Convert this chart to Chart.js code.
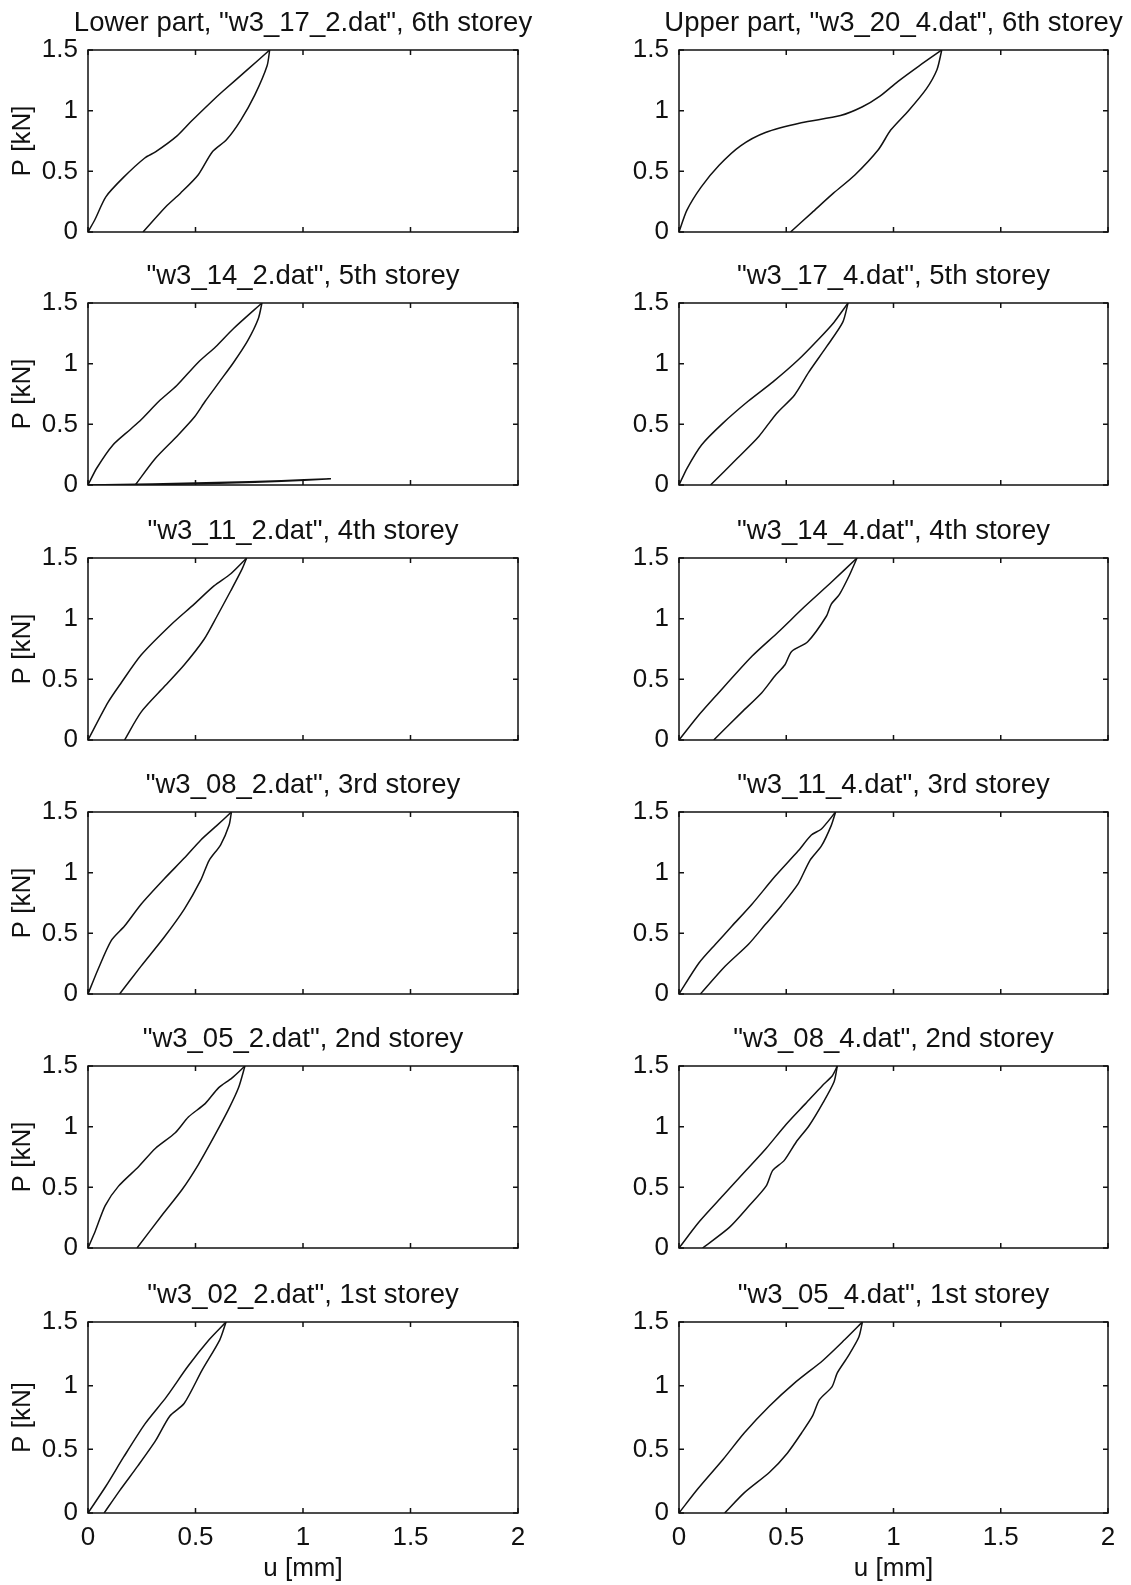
<!DOCTYPE html>
<html>
<head>
<meta charset="utf-8">
<script src="https://cdn.jsdelivr.net/npm/chart.js@4.4.1/dist/chart.umd.min.js"></script>
<style>
  html, body { margin: 0; padding: 0; background: #fff; width: 1131px; height: 1585px; overflow: hidden; position: relative; }
  canvas { position: absolute; }
</style>
</head>
<body>
<script>
// axis ticks (u in mm, P in kN)
const xTicks = [0, 0.5, 1, 1.5, 2];
const yTicks = [0, 0.5, 1, 1.5];

const titles = [
  'Lower part, "w3_17_2.dat", 6th storey', 'Upper part, "w3_20_4.dat", 6th storey',
  '"w3_14_2.dat", 5th storey', '"w3_17_4.dat", 5th storey',
  '"w3_11_2.dat", 4th storey', '"w3_14_4.dat", 4th storey',
  '"w3_08_2.dat", 3rd storey', '"w3_11_4.dat", 3rd storey',
  '"w3_05_2.dat", 2nd storey', '"w3_08_4.dat", 2nd storey',
  '"w3_02_2.dat", 1st storey', '"w3_05_4.dat", 1st storey'
];

// load / unload branches, [u, P] pairs
const w3_17_2_load = [[0,0],[0.033,0.105],[0.083,0.29],[0.165,0.45],[0.264,0.61],[0.314,0.66],[0.413,0.79],[0.479,0.91],[0.578,1.08],[0.627,1.16],[0.743,1.34],[0.845,1.5]];
const w3_17_2_unload = [[0.845,1.5],[0.833,1.37],[0.776,1.13],[0.71,0.92],[0.644,0.76],[0.578,0.66],[0.512,0.47],[0.43,0.32],[0.363,0.21],[0.256,0]];

const w3_20_4_load = [[0,0],[0.037,0.18],[0.103,0.37],[0.187,0.55],[0.287,0.71],[0.403,0.82],[0.57,0.9],[0.753,0.96],[0.853,1.03],[0.937,1.12],[1.02,1.24],[1.12,1.37],[1.225,1.5]];
const w3_20_4_unload = [[1.225,1.5],[1.203,1.34],[1.153,1.18],[1.07,1.0],[0.987,0.84],[0.93,0.68],[0.82,0.47],[0.72,0.32],[0.62,0.16],[0.52,0]];

const w3_14_2_load = [[0,0],[0.041,0.14],[0.116,0.33],[0.198,0.46],[0.248,0.54],[0.33,0.69],[0.413,0.82],[0.512,1.01],[0.594,1.14],[0.677,1.29],[0.809,1.5]];
const w3_14_2_unload = [[0.809,1.5],[0.792,1.37],[0.743,1.19],[0.677,1.01],[0.611,0.85],[0.545,0.69],[0.495,0.56],[0.413,0.4],[0.314,0.22],[0.22,0]];
const w3_14_2_reload = [[0,0],[0.3,0.008],[0.6,0.02],[0.9,0.035],[1.13,0.052],[0.9,0.03],[0.65,0.016],[0.4,0.006],[0.2,0]];

const w3_17_4_load = [[0,0],[0.038,0.14],[0.105,0.33],[0.205,0.51],[0.322,0.69],[0.438,0.85],[0.555,1.03],[0.655,1.21],[0.722,1.34],[0.788,1.5]];
const w3_17_4_unload = [[0.788,1.5],[0.763,1.34],[0.688,1.14],[0.605,0.93],[0.538,0.74],[0.455,0.59],[0.372,0.4],[0.272,0.22],[0.147,0]];

const w3_11_2_load = [[0,0],[0.093,0.31],[0.154,0.47],[0.247,0.7],[0.386,0.95],[0.494,1.12],[0.586,1.27],[0.664,1.37],[0.738,1.5]];
const w3_11_2_unload = [[0.738,1.5],[0.717,1.41],[0.664,1.23],[0.6,1.02],[0.54,0.83],[0.448,0.62],[0.355,0.44],[0.247,0.23],[0.17,0]];

const w3_14_4_load = [[0,0],[0.085,0.19],[0.17,0.36],[0.34,0.69],[0.463,0.89],[0.586,1.1],[0.71,1.3],[0.83,1.5]];
const w3_14_4_unload = [[0.83,1.5],[0.795,1.36],[0.748,1.2],[0.71,1.12],[0.687,1.02],[0.6,0.81],[0.525,0.73],[0.494,0.62],[0.448,0.53],[0.386,0.39],[0.293,0.23],[0.162,0]];

const w3_08_2_load = [[0,0],[0.046,0.2],[0.108,0.44],[0.17,0.56],[0.247,0.74],[0.355,0.95],[0.448,1.12],[0.525,1.27],[0.6,1.39],[0.667,1.5]];
const w3_08_2_unload = [[0.667,1.5],[0.656,1.39],[0.617,1.23],[0.563,1.1],[0.525,0.94],[0.448,0.7],[0.355,0.47],[0.247,0.23],[0.147,0]];

const w3_11_4_load = [[0,0],[0.093,0.255],[0.17,0.41],[0.247,0.56],[0.34,0.74],[0.448,0.97],[0.556,1.18],[0.617,1.31],[0.664,1.36],[0.73,1.5]];
const w3_11_4_unload = [[0.73,1.5],[0.71,1.39],[0.664,1.22],[0.61,1.1],[0.556,0.91],[0.478,0.73],[0.401,0.57],[0.324,0.41],[0.216,0.23],[0.1,0]];

const w3_05_2_load = [[0,0],[0.034,0.14],[0.08,0.35],[0.142,0.51],[0.235,0.67],[0.313,0.82],[0.406,0.95],[0.467,1.08],[0.545,1.19],[0.607,1.32],[0.669,1.4],[0.73,1.5]];
const w3_05_2_unload = [[0.73,1.5],[0.7,1.32],[0.653,1.14],[0.59,0.93],[0.514,0.69],[0.437,0.48],[0.344,0.27],[0.228,0]];

const w3_08_4_load = [[0,0],[0.096,0.22],[0.204,0.43],[0.313,0.64],[0.406,0.82],[0.5,1.02],[0.59,1.19],[0.669,1.34],[0.715,1.42],[0.738,1.5]];
const w3_08_4_unload = [[0.738,1.5],[0.723,1.37],[0.669,1.19],[0.607,1.01],[0.545,0.87],[0.49,0.72],[0.437,0.64],[0.406,0.51],[0.328,0.35],[0.235,0.17],[0.11,0]];

const w3_02_2_load = [[0,0],[0.083,0.21],[0.166,0.44],[0.265,0.7],[0.364,0.91],[0.464,1.15],[0.563,1.36],[0.642,1.5]];
const w3_02_2_unload = [[0.642,1.5],[0.613,1.36],[0.53,1.12],[0.447,0.86],[0.38,0.76],[0.315,0.57],[0.232,0.37],[0.149,0.18],[0.075,0]];

const w3_05_4_load = [[0,0],[0.088,0.19],[0.205,0.42],[0.305,0.63],[0.422,0.84],[0.538,1.02],[0.672,1.2],[0.772,1.36],[0.855,1.5]];
const w3_05_4_unload = [[0.855,1.5],[0.838,1.38],[0.788,1.23],[0.738,1.1],[0.713,0.99],[0.655,0.89],[0.622,0.76],[0.572,0.63],[0.505,0.47],[0.422,0.32],[0.305,0.16],[0.213,0]];

const curves = [
  [w3_17_2_load, w3_17_2_unload], [w3_20_4_load, w3_20_4_unload],
  [w3_14_2_load, w3_14_2_unload, w3_14_2_reload], [w3_17_4_load, w3_17_4_unload],
  [w3_11_2_load, w3_11_2_unload], [w3_14_4_load, w3_14_4_unload],
  [w3_08_2_load, w3_08_2_unload], [w3_11_4_load, w3_11_4_unload],
  [w3_05_2_load, w3_05_2_unload], [w3_08_4_load, w3_08_4_unload],
  [w3_02_2_load, w3_02_2_unload], [w3_05_4_load, w3_05_4_unload]
];

// page layout (pixels)
const colLeft = [88, 679];
const colWidth = [430, 429];
const rowTop = [50, 303, 558, 812, 1066, 1322];
const plotH = 191;
const side = 88;     // room left and right of each plot
const titleH = 41;

const FONT = { family: '"Liberation Sans", Arial, sans-serif', size: 26, weight: 'normal', lineHeight: 1 };
const TITLE_FONT = { family: '"Liberation Sans", Arial, sans-serif', size: 27.5, weight: 'normal', lineHeight: 1 };
const INK = '#111';

// matlab-like box with inward ticks on all four sides
const frame = {
  id: 'frame',
  afterDraw(chart) {
    const { ctx, chartArea: a, scales: { x, y } } = chart;
    ctx.save();
    ctx.strokeStyle = INK;
    ctx.lineWidth = 1.5;
    ctx.strokeRect(a.left, a.top, a.right - a.left, a.bottom - a.top);
    ctx.beginPath();
    xTicks.forEach(v => {
      const px = x.getPixelForValue(v);
      ctx.moveTo(px, a.bottom); ctx.lineTo(px, a.bottom - 5);
      ctx.moveTo(px, a.top); ctx.lineTo(px, a.top + 5);
    });
    yTicks.forEach(v => {
      const py = y.getPixelForValue(v);
      ctx.moveTo(a.left, py); ctx.lineTo(a.left + 5, py);
      ctx.moveTo(a.right, py); ctx.lineTo(a.right - 5, py);
    });
    ctx.stroke();
    ctx.restore();
  }
};

curves.forEach((lines, i) => {
  const row = Math.floor(i / 2), col = i % 2;
  const last = row === rowTop.length - 1;
  const xH = last ? 72 : 14;
  const c = document.createElement('canvas');
  const w = side + colWidth[col] + side;
  const h = titleH + plotH + xH;
  c.width = w; c.height = h;
  c.style.left = (colLeft[col] - side) + 'px';
  c.style.top = (rowTop[row] - titleH) + 'px';
  document.body.appendChild(c);

  new Chart(c, {
    type: 'scatter',
    data: {
      datasets: lines.map(pts => ({
        data: pts.map(([u, p]) => ({ x: u, y: p })),
        xAxisID: 'x',
        yAxisID: 'y',
        showLine: true,
        borderColor: INK,
        borderWidth: 1.5,
        pointRadius: 0,
        tension: 0.25,
        fill: false
      }))
    },
    options: {
      responsive: false,
      animation: false,
      devicePixelRatio: 1,
      layout: { padding: 0 },
      plugins: {
        legend: { display: false },
        tooltip: { enabled: false },
        title: {
          display: true,
          text: titles[i],
          color: INK,
          font: TITLE_FONT,
          padding: { top: 1, bottom: 12.5 }
        }
      },
      scales: {
        x: {
          type: 'linear', min: 0, max: 2,
          grid: { display: false, drawTicks: false },
          border: { display: false },
          afterBuildTicks: s => { s.ticks = xTicks.map(v => ({ value: v })); },
          afterFit: s => { s.height = xH; },
          ticks: { display: last, padding: 12, color: INK, font: FONT, maxRotation: 0, autoSkip: false, callback: v => String(v) },
          title: { display: last, text: 'u [mm]', color: INK, font: FONT, padding: { top: 0, bottom: 3 } }
        },
        y: {
          type: 'linear', position: 'left', min: 0, max: 1.5,
          grid: { display: false, drawTicks: false },
          border: { display: false },
          afterBuildTicks: s => { s.ticks = yTicks.map(v => ({ value: v })); },
          afterFit: s => { s.width = side; },
          ticks: { padding: 10, color: INK, font: FONT, autoSkip: false, callback: v => String(v) },
          title: { display: col === 0, text: 'P [kN]', color: INK, font: FONT, padding: { top: 10, bottom: 0 } }
        },
        // empty right-hand strip so the title stays centred over the plot
        yRight: {
          type: 'linear', position: 'right', min: 0, max: 1.5,
          grid: { display: false, drawTicks: false },
          border: { display: false },
          ticks: { display: false },
          afterFit: s => { s.width = side; }
        }
      }
    },
    plugins: [frame]
  });
});
</script>
</body>
</html>
